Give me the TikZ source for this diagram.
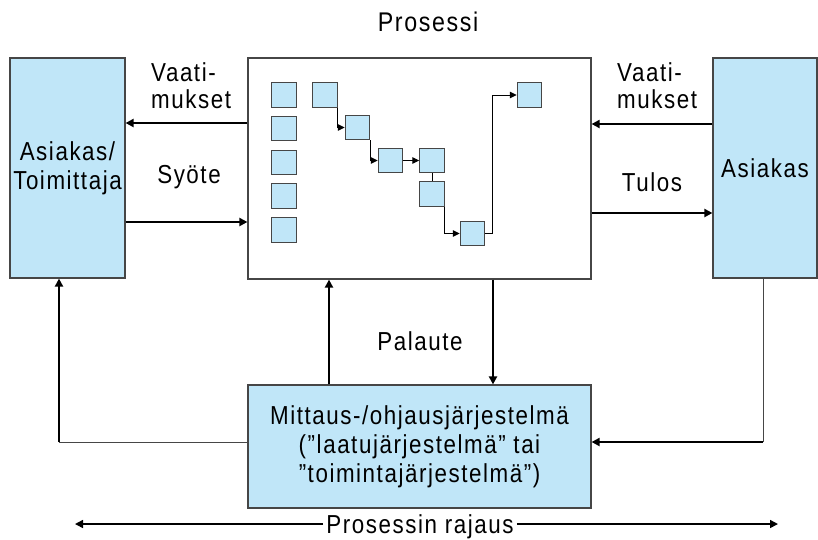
\documentclass[tikz,border=0pt]{standalone}
\usepackage{fontspec}
\setmainfont{Liberation Sans}[LetterSpace=6, FakeStretch=0.86]
\usetikzlibrary{positioning,arrows.meta,calc}
\definecolor{boxblue}{RGB}{192,230,248}
\definecolor{edgegray}{RGB}{70,70,70}

\begin{document}
\begin{tikzpicture}[
	x=1pt, y=-1pt,
	font=\fontsize{26}{29}\selectfont,
	node distance=8.2pt,
	actor/.style={
		draw=edgegray,
		line width=1.2pt,
		fill=boxblue,
		align=center,
		inner sep=0pt,
	},
	proc/.style={
		draw=edgegray,
		line width=1.2pt,
		fill=white,
		inner sep=0pt,
	},
	stepbox/.style={
		draw=edgegray,
		line width=1pt,
		fill=boxblue,
		minimum size=24.5pt,
		inner sep=0pt,
	},
	arr/.style={-{Triangle[length=8pt,width=8pt]}, line width=2pt},
	link/.style={-{Triangle[length=7pt,width=6.5pt]}, line width=1pt},
	wire/.style={line width=1pt, draw=edgegray},
	lbl/.style={font=\fontsize{26}{27}\selectfont, align=left, inner sep=0pt},
]
\useasboundingbox (0,0) rectangle (818,539);

% --- Hlavni bloky ---
\node[font=\fontsize{27}{30}\selectfont] (title) at (428,22) {Prosessi};
\node[actor, minimum width=115pt, minimum height=220pt] (supplier) at (67.5,168) {Asiakas/\\Toimittaja};
\node[proc, minimum width=343pt, minimum height=221pt] (proc) at (419.5,168.5) {};
\node[actor, minimum width=104pt, minimum height=220pt] (client) at (765,168) {Asiakas};
\node[actor, minimum width=343pt, minimum height=123pt] (control) at (419.5,446.5) {%
	Mittaus-/ohjausjärjestelmä\\
	(”laatujärjestelmä” tai\\
	”toimintajärjestelmä”)%
};

% --- Sloupec kroku ---
\node[stepbox] (s1) at (284,95) {};
\node[stepbox, below=of s1] (s2) {};
\node[stepbox, below=of s2] (s3) {};
\node[stepbox, below=of s3] (s4) {};
\node[stepbox, below=of s4] (s5) {};

% --- Retezec kroku ---
\node[stepbox] (a) at (325,95) {};
\node[stepbox] (b) at (357.5,127.5) {};
\node[stepbox] (c) at (390.5,160.5) {};
\node[stepbox, right=16pt of c] (d) {};
\node[stepbox, below=of d] (e) {};
\node[stepbox] (f) at (472.5,233.5) {};
\node[stepbox] (g) at (529.5,95) {};

\draw[link] (a.south east) |- (b.west);
\draw[link] (b.south east) |- (c.west);
\draw[link] (c.east) -- (d.west);
\draw[line width=1pt] (d.south) -- (e.north);
\draw[link] (e.south east) |- (f.west);
\draw[link] (f.east) -- ++(7,0) |- (g.west);

% --- Popisky ---
\node[lbl, anchor=west] (reqLtxt) at (151,86) {Vaati-\\mukset};
\node[lbl] (inLtxt) at (189,177) {Syöte};
\node[lbl, anchor=west] (reqRtxt) at (617,86) {Vaati-\\mukset};
\node[lbl] (outRtxt) at (652,182) {Tulos};
\node[lbl] (fbtxt) at (420,341) {Palaute};

% --- Vstupy a vystupy ---
\coordinate (reqL) at ($(proc.west)+(0,-45.5)$);
\draw[arr] (reqL) -- (reqL -| supplier.east);
\coordinate (inL) at ($(supplier.east)+(0,54)$);
\draw[arr] (inL) -- (inL -| proc.west);
\coordinate (reqR) at ($(client.west)+(0,-44)$);
\draw[arr] (reqR) -- (reqR -| proc.east);
\coordinate (outR) at ($(proc.east)+(0,44.5)$);
\draw[arr] (outR) -- (outR -| client.west);

% --- Zpetna vazba ---
\coordinate (fbUp) at ($(control.north)+(-90.5,0)$);
\draw[arr] (fbUp) -- (fbUp |- proc.south);
\coordinate (fbDown) at ($(proc.south)+(73.5,0)$);
\draw[arr] (fbDown) -- (fbDown |- control.north);

\coordinate (loopL) at ($(control.west)+(0,-4.5)$);
\coordinate (cornerL) at ($(supplier.south |- loopL)+(-8.5,0)$);
\draw[wire] (loopL) -- (cornerL);
\draw[arr] (cornerL) -- (cornerL |- supplier.south);

\coordinate (loopR) at ($(control.east)+(0,-4.5)$);
\coordinate (cornerR) at ($(client.south |- loopR)+(-2,0)$);
\draw[wire] (cornerR |- client.south) -- (cornerR);
\draw[arr] (cornerR) -- (loopR);

% --- Hranice procesu ---
\node[lbl, inner xsep=3pt] (bound) at (420,527) {Prosessin rajaus};
\coordinate (limL) at (75,524);
\coordinate (limR) at (778,524);
\draw[arr, line width=1.5pt] (bound.west |- limL) -- (limL);
\draw[arr, line width=1.5pt] (bound.east |- limR) -- (limR);

\end{tikzpicture}
\end{document}
